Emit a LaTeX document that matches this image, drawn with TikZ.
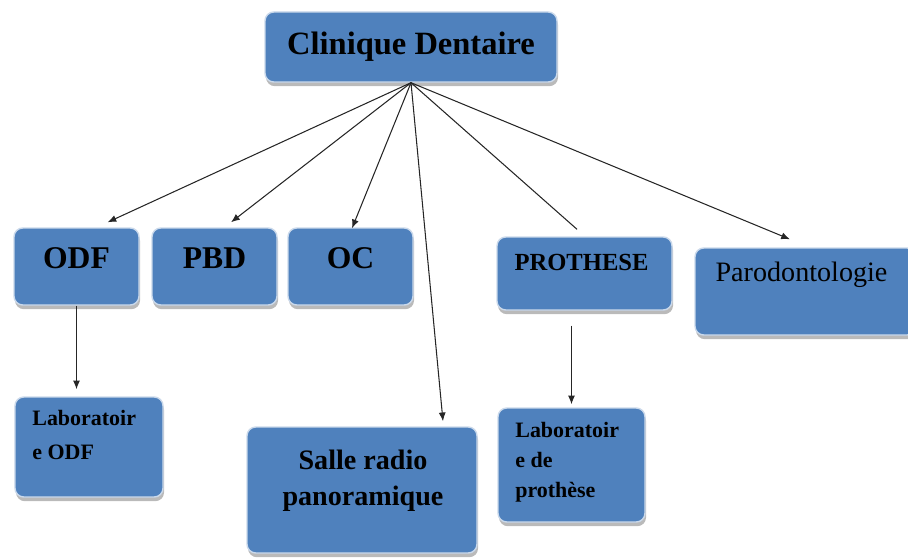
\documentclass[tikz,border=0pt]{standalone}
\usepackage{fontspec}
\setmainfont{Liberation Serif}
\usetikzlibrary{positioning,arrows.meta,calc,shadows}
\definecolor{boxblue}{RGB}{79,129,189}

\begin{document}
\begin{tikzpicture}[>={Latex[length=5pt,width=4pt]},
  box/.style={draw=white!70!boxblue, line width=0.8pt, fill=boxblue, rounded corners=5pt,
    drop shadow={shadow xshift=0.6pt, shadow yshift=-2.4pt, fill=black!60, opacity=0.45},
    inner sep=0pt},
  lbl/.style={inner sep=0pt},
  link/.style={black!85, line width=0.6pt}]
\clip (0,0) rectangle (18.16,11.16);
% top box
\node[box, minimum width=5.84cm, minimum height=1.40cm,
  font=\bfseries\fontsize{18.5}{22}\selectfont] (clin) at (8.22,10.22) {Clinique Dentaire};
% first row
\foreach \n/\x/\t in {odf/1.53/ODF, pbd/4.29/PBD, oc/7.01/OC} {
  \node[box, minimum width=2.5cm, minimum height=1.54cm] (\n) at (\x,5.83) {};
  \node[lbl, font=\bfseries\fontsize{18}{22}\selectfont] (\n-t) at ([yshift=0.16cm]\n.center) {\t};
}
\node[box, minimum width=3.5cm, minimum height=1.46cm] (pro) at (11.69,5.69) {};
\node[lbl, font=\bfseries\fontsize{14}{17}\selectfont] (pro-t) at (11.63,5.92) {PROTHESE};
\node[box, minimum width=4.42cm, minimum height=1.74cm] (paro) at (16.11,5.33) {};
\node[lbl, font=\fontsize{16}{19}\selectfont] (paro-t) at (16.03,5.67) {Parodontologie};
% second row
\node[box, minimum width=2.96cm, minimum height=2.0cm] (labodf) at (1.78,2.22) {};
\node[lbl, anchor=north west, align=left, font=\bfseries\fontsize{12.5}{19.4}\selectfont]
  (labodf-t) at (0.64,2.96) {Laboratoir\\e ODF};
\node[box, minimum width=4.6cm, minimum height=2.52cm] (salle) at (7.24,1.36) {};
\node[lbl, align=center, font=\bfseries\fontsize{16}{20.5}\selectfont]
  (salle-t) at (7.26,1.54) {Salle radio\\panoramique};
\node[box, minimum width=2.94cm, minimum height=2.28cm] (labpro) at (11.43,1.86) {};
\node[lbl, anchor=north west, align=left, font=\bfseries\fontsize{12.5}{17}\selectfont]
  (labpro-t) at (10.3,2.72) {Laboratoir\\e de\\prothèse};
% links
\draw[link,->] (clin.south) -- ([shift={(0.62,0.1)}]odf.north);
\draw[link,->] (clin.south) -- ([shift={(0.33,0.1)}]pbd.north);
\draw[link,->] (clin.south) -- ([shift={(0.03,-0.02)}]oc.north);
\draw[link,->] (clin.south) -- ([shift={(1.62,0.1)}]salle.north);
\draw[link] (clin.south) -- ([shift={(-0.15,0.14)}]pro.north);
\draw[link,->] (clin.south) -- ([shift={(-0.31,0.16)}]paro.north);
\draw[link,->] (odf.south) -- ([yshift=0.14cm]odf.south |- labodf.north);
\draw[link,->] ([yshift=-0.3cm]labpro.north |- pro.south) -- ([yshift=0.06cm]labpro.north);
\end{tikzpicture}
\end{document}
